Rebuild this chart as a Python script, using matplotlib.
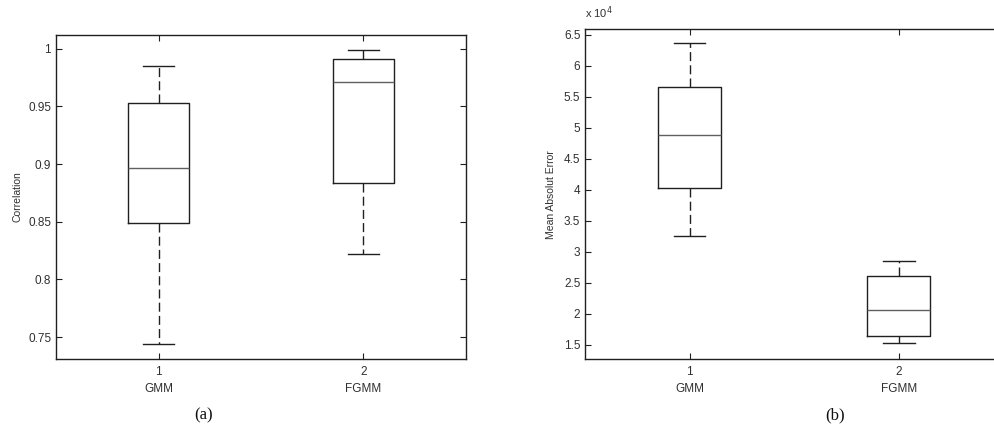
import matplotlib
matplotlib.use("Agg")
import matplotlib.pyplot as plt
from matplotlib.ticker import FixedLocator, FuncFormatter

# ---- data ----
groups = ["GMM", "FGMM"]
group_ids = ["1", "2"]

corr_whislo = [0.744, 0.822]
corr_q1 = [0.849, 0.8835]
corr_med = [0.897, 0.971]
corr_q3 = [0.953, 0.991]
corr_whishi = [0.985, 0.999]

mae_whislo = [32500, 15200]
mae_q1 = [40250, 16450]
mae_med = [48800, 20650]
mae_q3 = [56600, 26100]
mae_whishi = [63650, 28450]

corr_ticks = [0.75, 0.8, 0.85, 0.9, 0.95, 1.0]
mae_ticks = [15000, 20000, 25000, 30000, 35000, 40000, 45000, 50000, 55000, 60000, 65000]

plt.rcParams['font.family'] = ['Liberation Sans', 'DejaVu Sans']

fig = plt.figure(figsize=(9.95, 4.25), dpi=100)
ax1 = fig.add_axes([0.0563, 0.1553, 0.412, 0.7624])
ax2 = fig.add_axes([0.5882, 0.1553, 0.4202, 0.7758])

tick_col = "#303030"


def make_stats(lo, q1, med, q3, hi):
    return [dict(whislo=lo[i], q1=q1[i], med=med[i], q3=q3[i], whishi=hi[i], fliers=[])
            for i in range(len(lo))]


def draw(ax, stats):
    ax.bxp(stats, positions=[1, 2], widths=0.3, showfliers=False, patch_artist=False,
           boxprops=dict(color="#202020", linewidth=1.0),
           medianprops=dict(color="#606060", linewidth=1.0),
           whiskerprops=dict(color="#202020", linewidth=1.0, linestyle=(0, (6.5, 3))),
           capprops=dict(color="#202020", linewidth=1.0),
           capwidths=0.15)
    ax.set_xlim(0.5, 2.5)
    ax.set_xticks([1, 2])
    ax.set_xticklabels([f"{g}\n{n}" for g, n in zip(group_ids, groups)],
                       fontsize=8.5, color=tick_col, linespacing=1.6)
    ax.tick_params(axis="both", direction="in", top=True, right=True, length=4,
                   width=0.8, colors="#202020", labelcolor=tick_col, labelsize=8.5)
    ax.tick_params(axis="x", pad=5)
    for s in ax.spines.values():
        s.set_linewidth(1.0)
        s.set_color("#202020")


draw(ax1, make_stats(corr_whislo, corr_q1, corr_med, corr_q3, corr_whishi))
ax1.set_ylim(0.731, 1.012)
ax1.yaxis.set_major_locator(FixedLocator(corr_ticks))
ax1.yaxis.set_major_formatter(FuncFormatter(lambda v, p: f"{v:g}"))
ax1.set_ylabel("Correlation", fontsize=7.5, color=tick_col, labelpad=4)

draw(ax2, make_stats(mae_whislo, mae_q1, mae_med, mae_q3, mae_whishi))
ax2.set_ylim(12690, 65920)
ax2.yaxis.set_major_locator(FixedLocator(mae_ticks))
ax2.yaxis.set_major_formatter(FuncFormatter(lambda v, p: f"{v/1e4:g}"))
ax2.set_ylabel("Mean Absolut Error", fontsize=7.5, color=tick_col, labelpad=6)
ax2.text(0.0, 1.025, r"x 10$^4$", transform=ax2.transAxes, fontsize=8,
         color=tick_col, ha="left", va="bottom")

fig.text(204 / 995, 1 - 415 / 425, "(a)", family="Liberation Serif", fontsize=12,
         ha="center", va="center", color="#101010")
fig.text(835 / 995, 1 - 415 / 425, "(b)", family="Liberation Serif", fontsize=12,
         ha="center", va="center", color="#101010")

fig.savefig("out.png", dpi=100)
